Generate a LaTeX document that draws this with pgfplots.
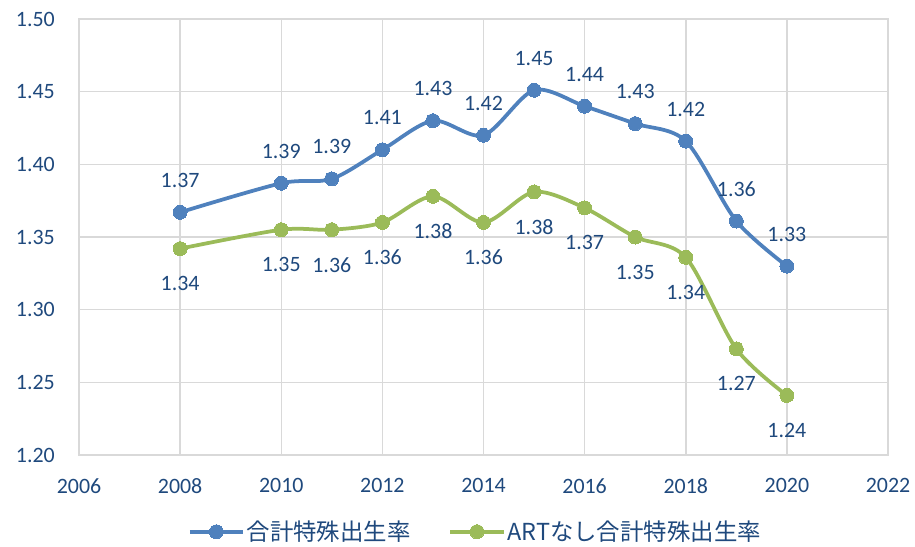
\documentclass[border=0pt]{standalone}
\usepackage{fontspec}
\setmainfont{Carlito}
\newfontfamily\jp{Noto Sans CJK JP}
\usepackage{pgfplots}
\usepackage{pgfplotstable}
\pgfplotsset{compat=1.18}
\definecolor{serA}{HTML}{4F81BD}
\definecolor{serB}{HTML}{9BBB59}
\definecolor{txt}{HTML}{1F497D}
\definecolor{gridc}{HTML}{D9D9D9}

\pgfplotstableread{
x y lab
2008 1.367 1.37
2010 1.387 1.39
2011 1.390 1.39
2012 1.410 1.41
2013 1.430 1.43
2014 1.420 1.42
2015 1.451 1.45
2016 1.440 1.44
2017 1.428 1.43
2018 1.416 1.42
2019 1.361 1.36
2020 1.330 1.33
}\tfr

\pgfplotstableread{
x y lab
2008 1.342 1.34
2010 1.355 1.35
2011 1.355 1.36
2012 1.360 1.36
2013 1.378 1.38
2014 1.360 1.36
2015 1.381 1.38
2016 1.370 1.37
2017 1.350 1.35
2018 1.336 1.34
2019 1.273 1.27
2020 1.241 1.24
}\tfrart

\begin{document}
\begin{tikzpicture}
\useasboundingbox (-79bp,-92bp) rectangle (836bp,455bp);
\begin{axis}[
  scale only axis,
  width=809bp, height=436bp,
  xmin=2006, xmax=2022, ymin=1.20, ymax=1.50,
  xtick={2006,2008,...,2022},
  ytick={1.20,1.25,...,1.50},
  /pgf/number format/assume math mode=true,
  xticklabel style={/pgf/number format/1000 sep={}, anchor=north, inner sep=0pt, yshift=-23bp},
  yticklabel style={/pgf/number format/fixed, /pgf/number format/precision=2, /pgf/number format/fixed zerofill, anchor=east, inner sep=0pt, xshift=-24bp},
  tick label style={font=\fontsize{22}{26}\selectfont, text=txt},
  major tick length=0pt,
  grid=major,
  major grid style={draw=gridc, line width=1.5bp},
  axis line style={draw=gridc, line width=1.5bp},
  legend columns=2,
  legend style={at={(0.49,-0.176)}, anchor=center, draw=none, fill=none,
    font=\jp\fontsize{23.5}{28}\selectfont, text=txt,
    /tikz/every even column/.append style={column sep=36bp},
    nodes={inner xsep=2bp, inner ysep=1bp}},
  legend image code/.code={\draw[#1,mark repeat=2,mark phase=2] plot coordinates {(0bp,0bp)(26.5bp,0bp)(53bp,0bp)};},
  point meta=explicit symbolic,
  nodes near coords,
  every node near coord/.append style={font=\fontsize{22}{26}\selectfont, text=txt, inner sep=0pt, anchor=center},
]
\addplot[serA, line width=3.75bp, smooth, mark=*, mark size=7bp, mark options={fill=serA, draw=serA, line width=0pt},
  every node near coord/.append style={yshift=32bp}]
  table[x=x, y=y, meta=lab] {\tfr};
\addlegendentry{合計特殊出生率}
\addplot[serB, line width=3.75bp, smooth, mark=*, mark size=7bp, mark options={fill=serB, draw=serB, line width=0pt},
  every node near coord/.append style={yshift=-35bp}]
  table[x=x, y=y, meta=lab] {\tfrart};
\addlegendentry{ARTなし合計特殊出生率}
\end{axis}
\end{tikzpicture}
\end{document}
